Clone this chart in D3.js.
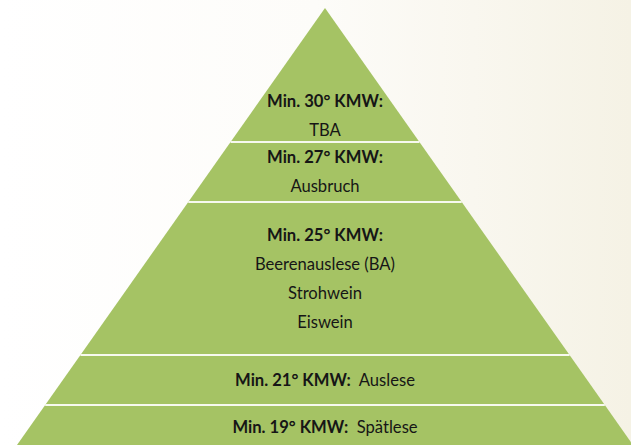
<!DOCTYPE html>
<head>
  <meta charset="utf-8">
  <script src="https://d3js.org/d3.v7.min.js"></script>
  <style type="text/css">
    body { margin:0; }
    .layer { fill: #a5c364; }
    .sep { stroke: #f7f9ef; stroke-width: 2; }
    .lbl { font-family: Lato, "Open Sans", sans-serif; font-size: 16.6px; fill: #161616; }
    .bold { font-weight: bold; }
  </style>
</head>
<body>
<script>
// pyramid levels, top to bottom
var minKMW  = [30, 27, 25, 21, 19];
var heading = ["Min. 30° KMW:", "Min. 27° KMW:", "Min. 25° KMW:", "Min. 21° KMW:", "Min. 19° KMW:"];
var wines   = [["TBA"], ["Ausbruch"], ["Beerenauslese (BA)", "Strohwein", "Eiswein"], ["Auslese"], ["Spätlese"]];
var inline  = [false, false, false, true, true];
// layer boundaries as fraction of pyramid height (apex = 0)
var bounds  = [0, 0.3066, 0.4439, 0.794, 0.9085, 1];

var width = 631, height = 445;
var apexX = 325, apexY = 8, baseY = 445, baseHalf = 308;

var y = d3.scaleLinear().domain([0, 1]).range([apexY, baseY]);
var half = d3.scaleLinear().domain([0, 1]).range([0, baseHalf]);

var svg = d3.select("body").append("svg")
  .attr("width", width)
  .attr("height", height);

var grad = svg.append("defs").append("linearGradient")
  .attr("id", "bg").attr("x1", 0).attr("x2", 1).attr("y1", 0).attr("y2", 0);
grad.append("stop").attr("offset", 0).attr("stop-color", "#ffffff");
grad.append("stop").attr("offset", 0.5).attr("stop-color", "#fdfcf9");
grad.append("stop").attr("offset", 1).attr("stop-color", "#f5f2e5");

svg.append("rect").attr("width", width).attr("height", height).attr("fill", "url(#bg)");

var levels = minKMW.map(function(k, i) {
  return { kmw: k, head: heading[i], wines: wines[i], inline: inline[i], t: bounds[i], b: bounds[i + 1] };
});

svg.selectAll(".layer")
  .data(levels)
  .enter().append("path")
  .attr("class", "layer")
  .attr("d", function(d) {
    return "M" + (apexX - half(d.t)) + "," + y(d.t) +
      "L" + (apexX + half(d.t)) + "," + y(d.t) +
      "L" + (apexX + half(d.b)) + "," + y(d.b) +
      "L" + (apexX - half(d.b)) + "," + y(d.b) + "Z";
  });

// white gaps between layers
svg.selectAll(".sep")
  .data(bounds.slice(1, -1))
  .enter().append("line")
  .attr("class", "sep")
  .attr("x1", function(d) { return apexX - half(d); })
  .attr("x2", function(d) { return apexX + half(d); })
  .attr("y1", function(d) { return y(d); })
  .attr("y2", function(d) { return y(d); });

var lineH = 29;

levels.forEach(function(d) {
  var top = y(d.t), bot = y(d.b);
  if (d.inline) {
    var mid = d.b < 1 ? (top + bot) / 2 : top + 22;
    var t = svg.append("text")
      .attr("class", "lbl")
      .attr("x", apexX)
      .attr("y", mid + 6)
      .attr("text-anchor", "middle");
    t.append("tspan").attr("class", "bold").text(d.head);
    t.append("tspan").text("\u00a0\u00a0" + d.wines[0]);
  } else {
    var n = d.wines.length + 1;
    var first = (top + bot) / 2 - (n - 1) * lineH / 2 + 6;
    if (d.t === 0) first = bot - 6 - (n - 1) * lineH;
    svg.append("text")
      .attr("class", "lbl bold")
      .attr("x", apexX)
      .attr("y", first)
      .attr("text-anchor", "middle")
      .text(d.head);
    d.wines.forEach(function(w, j) {
      svg.append("text")
        .attr("class", "lbl")
        .attr("x", apexX)
        .attr("y", first + (j + 1) * lineH)
        .attr("text-anchor", "middle")
        .text(w);
    });
  }
});
</script>
</body>
